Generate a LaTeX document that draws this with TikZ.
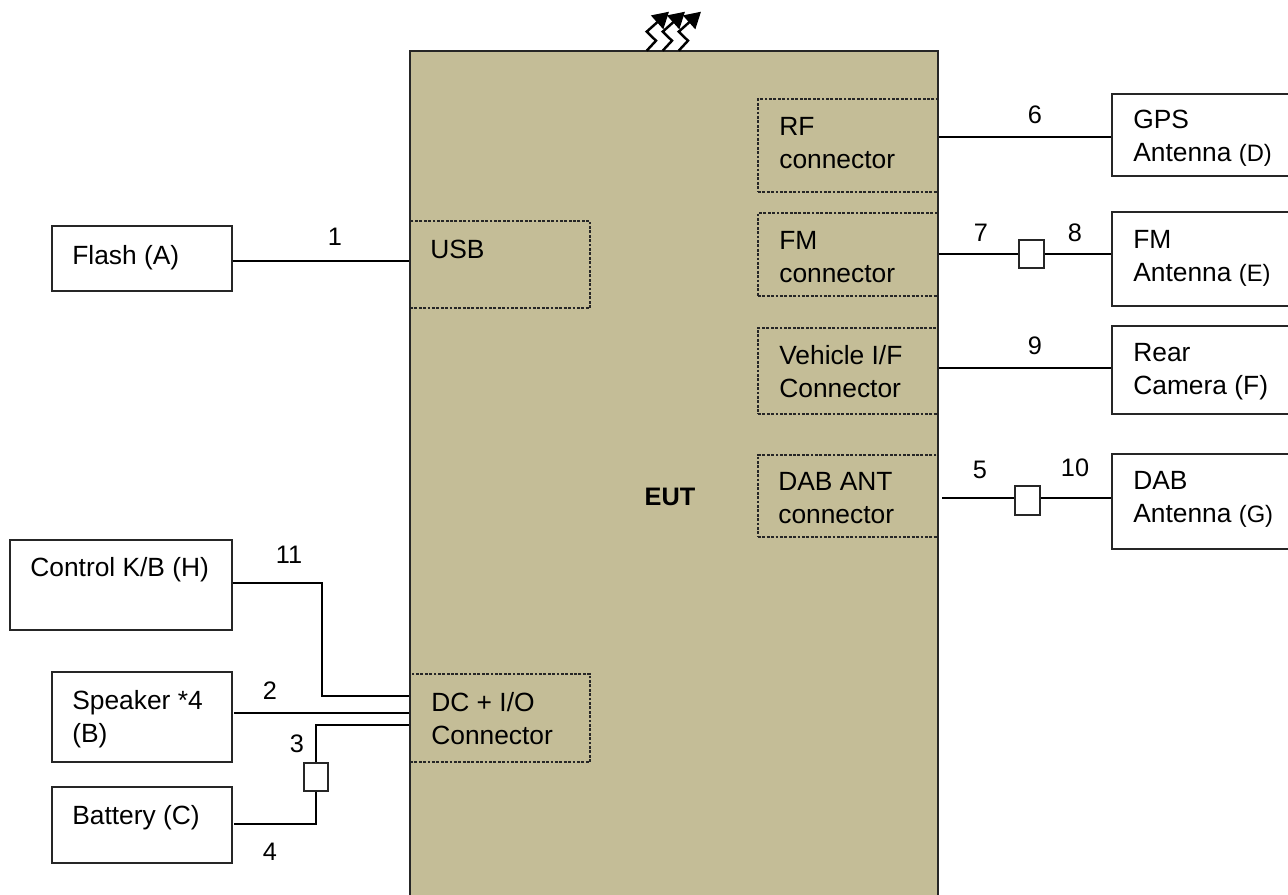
\documentclass[tikz,border=0pt]{standalone}
\usepackage{fontspec}
\setmainfont{Liberation Sans}
\usepackage{tikz}
\usetikzlibrary{arrows.meta,positioning}
\definecolor{euttan}{HTML}{C4BD97}
\tikzset{
  wire/.style={line width=1.1pt,black},
  rf arrow/.style={-{Triangle[length=3.2mm,width=3.6mm]},line width=1.4pt,black},
  eut body/.style={draw=black!85,line width=0.8pt,fill=euttan,inner sep=0pt},
  port box/.style={draw=black!85,dashed,dash pattern=on 1.6pt off 0.9pt,line width=0.6pt,inner sep=0pt},
  device box/.style={draw=black!85,line width=0.6pt,fill=white,inner sep=0pt},
  filter box/.style={draw=black!85,line width=0.6pt,fill=white,inner sep=0pt},
  box text/.style={anchor=west,align=left,inner sep=0pt},
  cable label/.style={inner sep=0pt,font=\fontsize{14.4pt}{18.8pt}\selectfont}
}
\newcommand{\pxsize}{0.02cm}
% corners of the box: x1,y1,x2,y2 in reference pixels
\newcommand{\placebox}[6]{%
  \node[#1,minimum width={(#5-#3)*\pxsize},minimum height={(#6-#4)*\pxsize}]
    (#2) at ({(#3+#5)/2},{(#4+#6)/2}) {};
}
\newcommand{\smallpar}[1]{{\fontsize{13.5pt}{18.8pt}\selectfont #1}}

\begin{document}
\begin{tikzpicture}[x=0.02cm,y=-0.02cm,font=\fontsize{15pt}{18.8pt}\selectfont]
  \useasboundingbox (0,0) rectangle (1288,895);
  \clip (0,0) rectangle (1288,895);

  % EUT body and its ports
  \placebox{eut body}{eut}{410}{51}{938}{905}
  \node[font=\fontsize{14.4pt}{18.8pt}\selectfont\bfseries,inner sep=0pt] (eut-text) at (670,497) {EUT};
  \placebox{port box}{usb}{410}{221}{590}{308}
  \placebox{port box}{dcio}{410}{674}{590}{762}
  \placebox{port box}{rfcon}{758}{99}{938}{192}
  \placebox{port box}{fmcon}{758}{213}{938}{296}
  \placebox{port box}{vehcon}{758}{328}{938}{414}
  \placebox{port box}{dabcon}{758}{455}{938}{537}
  \node[box text] (usb-text) at (430,249) {USB};
  \node[box text] (dcio-text) at (431,719) {DC + I/O\\Connector};
  \node[box text] (rfcon-text) at (779,143) {RF\\connector};
  \node[box text] (fmcon-text) at (779,257) {FM\\connector};
  \node[box text] (vehcon-text) at (779,372) {Vehicle I/F\\Connector};
  \node[box text] (dabcon-text) at (778,498) {DAB ANT\\connector};

  % Units on the left
  \placebox{device box}{flash}{52}{226}{232}{291}
  \placebox{device box}{keyb}{10}{540}{232}{630}
  \placebox{device box}{speaker}{52}{672}{232}{762}
  \placebox{device box}{battery}{52}{787}{232}{863}
  \node[box text] (flash-text) at (72,258) {Flash (A)};
  \node[box text] (keyb-text) at (30,570) {Control K/B (H)};
  \node[box text] (speaker-text) at (72,719) {Speaker *4\\(B)};
  \node[box text] (battery-text) at (72,818) {Battery (C)};

  % Units on the right
  \placebox{device box}{gps}{1112}{94}{1300}{176}
  \placebox{device box}{fmant}{1112}{212}{1300}{306}
  \placebox{device box}{camera}{1112}{326}{1300}{414}
  \placebox{device box}{dabant}{1112}{454}{1300}{549}
  \node[box text] (gps-text) at (1133,138) {GPS\\Antenna \smallpar{(D)}};
  \node[box text] (fmant-text) at (1133,258) {FM\\Antenna \smallpar{(E)}};
  \node[box text] (camera-text) at (1133,372) {Rear\\Camera (F)};
  \node[box text] (dabant-text) at (1133,499) {DAB\\Antenna \smallpar{(G)}};

  % Inline filters
  \placebox{filter box}{fmfilter}{1019}{240}{1044}{268}
  \placebox{filter box}{dabfilter}{1015}{486}{1040}{515}
  \placebox{filter box}{batfilter}{304}{763}{328}{791}

  % Cables
  \draw[wire] (flash.east |- 0,261) -- (usb.west |- 0,261);
  \draw[wire] (keyb.east |- 0,583) -| (322,696) -- (dcio.west |- 0,696);
  \draw[wire] ([xshift=1pt]speaker.east |- 0,713) -- (dcio.west |- 0,713);
  \draw[wire] (dcio.west |- 0,725) -| (batfilter.north);
  \draw[wire] (batfilter.south) |- ([xshift=1pt]battery.east |- 0,824);
  \draw[wire] (rfcon.east |- 0,137) -- (gps.west |- 0,137);
  \draw[wire] (fmcon.east |- 0,254) -- (fmfilter.west |- 0,254);
  \draw[wire] (fmfilter.east |- 0,254) -- (fmant.west |- 0,254);
  \draw[wire] (vehcon.east |- 0,368) -- (camera.west |- 0,368);
  \draw[wire] ([xshift=2.2pt]dabcon.east |- 0,498) -- (dabfilter.west |- 0,498);
  \draw[wire] (dabfilter.east |- 0,498) -- (dabant.west |- 0,498);

  % Cable numbers
  \node[cable label] (cable1) at (335,237) {1};
  \node[cable label] (cable2) at (270,691) {2};
  \node[cable label] (cable3) at (297,744) {3};
  \node[cable label] (cable4) at (270,852) {4};
  \node[cable label] (cable5) at (980,470) {5};
  \node[cable label] (cable6) at (1035,115) {6};
  \node[cable label] (cable7) at (981,233) {7};
  \node[cable label] (cable8) at (1075,233) {8};
  \node[cable label] (cable9) at (1035,346) {9};
  \node[cable label] (cable10) at (1075,468) {10};
  \node[cable label] (cable11) at (289,555) {11};

  % Radiated signal
  \foreach \dx in {0,16,32} {
    \draw[rf arrow] (646.7+\dx,50.7) -- (656+\dx,40.7) -- (646.7+\dx,31.7) -- (669+\dx,11.7);
  }
\end{tikzpicture}
\end{document}
